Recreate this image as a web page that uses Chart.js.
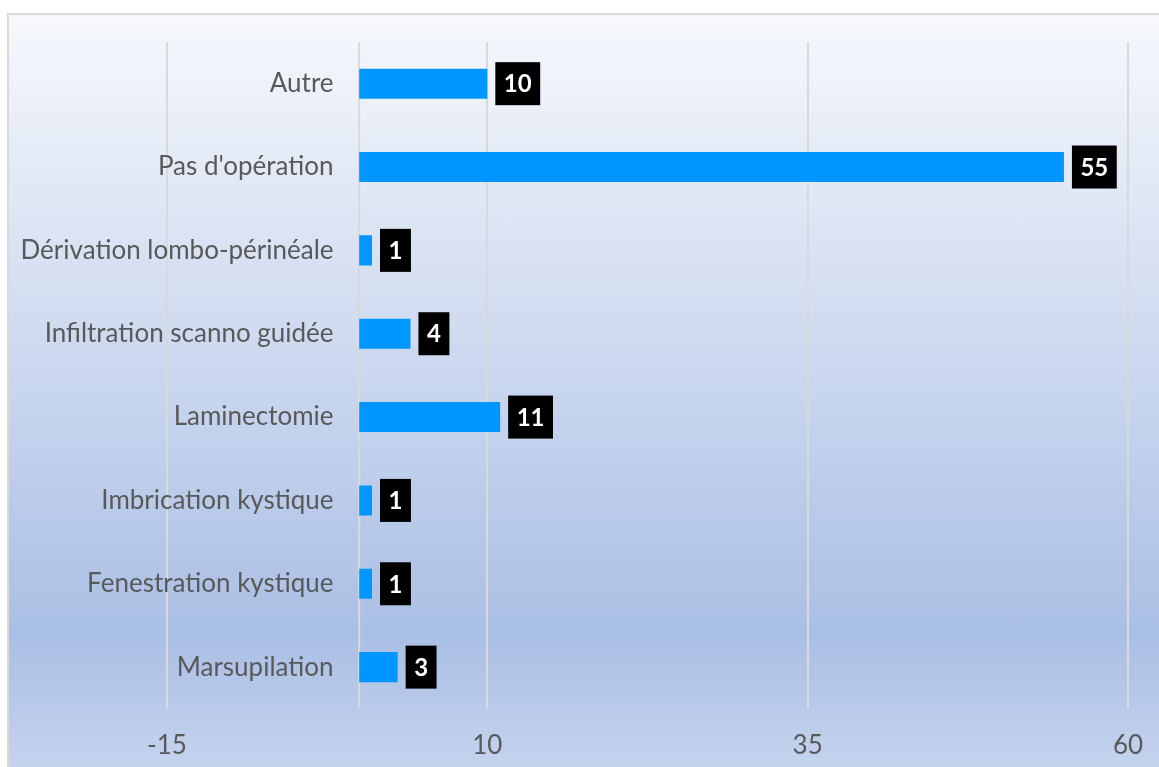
<!DOCTYPE html>
<html>
<head>
<meta charset="utf-8">
<script src="https://cdn.jsdelivr.net/npm/chart.js@4.4.1/dist/chart.umd.min.js"></script>
<style>
  html, body { margin: 0; padding: 0; overflow: hidden; background: #fff; }
  #frame {
    position: absolute; left: 7px; top: 13px;
    width: 1200px; height: 800px;
    border: 2px solid #d9d9d9;
    background: linear-gradient(to bottom, #f6f8fc 0px, #aabfe5 620px, #c6d4ee 760px);
  }
  #chart { position: absolute; left: 0; top: 0; }
</style>
</head>
<body>
<div id="frame"></div>
<canvas id="chart" width="1159" height="767"></canvas>
<script>
// categories top to bottom, as in the picture
const categories = ['Autre', "Pas d'opération", 'Dérivation lombo-périnéale', 'Infiltration scanno guidée',
  'Laminectomie', 'Imbrication kystique', 'Fenestration kystique', 'Marsupilation'];
const counts = [10, 55, 1, 4, 11, 1, 1, 3];
const xTicks = [-15, 10, 35, 60];

const textColor = '#595959';
const gridColor = '#d9d9d9';

// black value boxes at the end of each bar
const valueBoxes = {
  id: 'valueBoxes',
  afterDatasetsDraw(chart) {
    const ctx = chart.ctx;
    const meta = chart.getDatasetMeta(0);
    ctx.save();
    ctx.font = 'bold 24px Lato';
    ctx.textAlign = 'center';
    ctx.textBaseline = 'middle';
    meta.data.forEach((bar, i) => {
      const txt = String(counts[i]);
      const w = ctx.measureText(txt).width + 17;
      const h = 43;
      const x = bar.x + 8;
      ctx.fillStyle = '#000';
      ctx.fillRect(x, bar.y - h / 2, w, h);
      ctx.fillStyle = '#fff';
      ctx.fillText(txt, x + w / 2, bar.y + 1);
    });
    ctx.restore();
  }
};

// vertical line at zero (the value axis line)
const zeroLine = {
  id: 'zeroLine',
  beforeDatasetsDraw(chart) {
    const { ctx, chartArea, scales } = chart;
    const x = scales.x.getPixelForValue(0);
    ctx.save();
    ctx.strokeStyle = gridColor;
    ctx.lineWidth = 2;
    ctx.beginPath();
    ctx.moveTo(x, chartArea.top);
    ctx.lineTo(x, chartArea.bottom);
    ctx.stroke();
    ctx.restore();
  }
};

const ctx = document.getElementById('chart');

new Chart(ctx, {
  type: 'bar',
  data: {
    labels: categories,
    datasets: [{
      data: counts,
      backgroundColor: 'rgb(0,150,255)',
      borderWidth: 0,
      barPercentage: 0.36,
      categoryPercentage: 1
    }]
  },
  options: {
    indexAxis: 'y',
    responsive: false,
    animation: false,
    layout: { padding: { left: 167, right: 31, top: 42, bottom: -16 } },
    plugins: { legend: { display: false }, tooltip: { enabled: false } },
    scales: {
      x: {
        min: -15,
        max: 60,
        afterBuildTicks: (scale) => { scale.ticks = xTicks.map(v => ({ value: v })); },
        grid: { color: gridColor, lineWidth: 2, drawTicks: false },
        border: { display: false },
        ticks: { color: textColor, font: { family: 'Lato', size: 26, lineHeight: 1.7 }, padding: 15, maxRotation: 0 }
      },
      y: {
        // labels sit just left of the zero line, as in the picture
        position: { x: -2 },
        grid: { display: false, drawTicks: false },
        border: { display: false },
        ticks: { color: textColor, font: { family: 'Lato', size: 26 }, padding: 0 }
      }
    }
  },
  plugins: [zeroLine, valueBoxes]
});
</script>
</body>
</html>
